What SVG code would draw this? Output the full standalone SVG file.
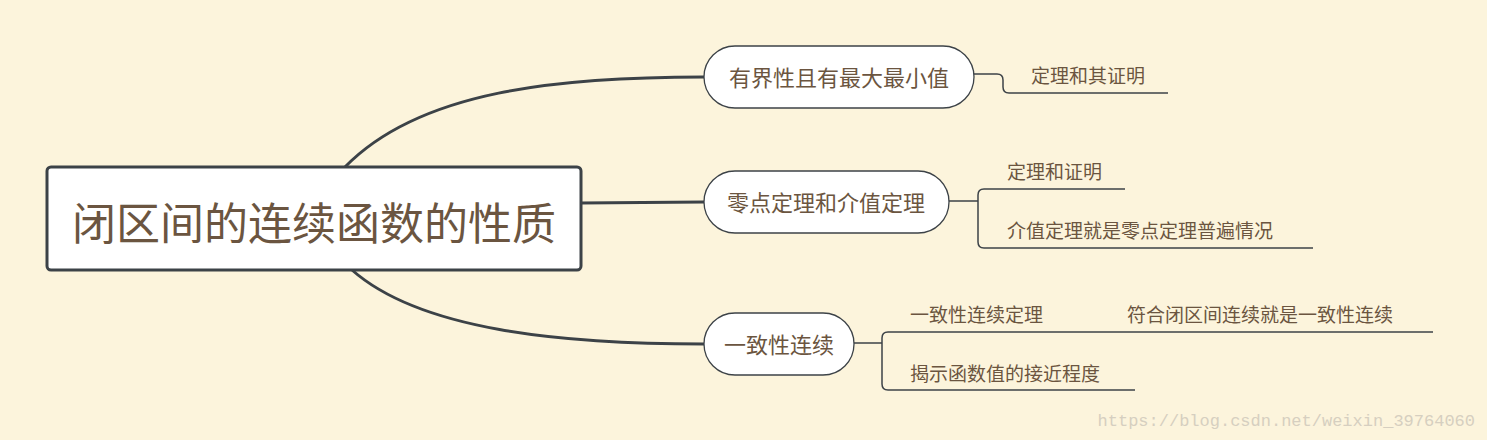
<svg xmlns="http://www.w3.org/2000/svg" width="1487" height="440" viewBox="0 0 1487 440">
<style>
.t{font-family:"Noto Sans CJK SC","Noto Sans",sans-serif;fill:#6b5540}
.n{fill:#fff;stroke:#3c4247;stroke-width:1.3}
.c{fill:none;stroke:#3c4247;stroke-width:3}
.l{fill:none;stroke:#3c4247;stroke-width:1.5}
</style>
<rect width="1487" height="440" fill="#fcf4dc"/>
<g id="connectors">
<path class="c" d="M345,167 C420,90 560,77 704,77"/>
<path class="c" d="M581,203 L704,202"/>
<path class="c" d="M352,270 C420,330 560,344 704,344"/>
<path class="l" d="M974,74 H997 Q1003,74 1003,80 V87 Q1003,93 1009,93 H1168"/>
<path class="l" d="M949,201 H978"/>
<path class="l" d="M1125,189 H984 Q978,189 978,195 V242 Q978,248 984,248 H1313"/>
<path class="l" d="M854,343 H882"/>
<path class="l" d="M1433,332 H888 Q882,332 882,338 V384 Q882,390 888,390 H1135"/>
</g>
<g id="root">
<rect x="47" y="167" width="534" height="103" rx="4" fill="#fff" stroke="#3c4247" stroke-width="3"/>
<text class="t" x="314" y="240" font-size="44" text-anchor="middle">闭区间的连续函数的性质</text>
</g>
<g id="n1">
<rect class="n" x="704" y="46" width="270" height="62" rx="31"/>
<text class="t" x="839" y="86" font-size="22" text-anchor="middle">有界性且有最大最小值</text>
</g>
<g id="n2">
<rect class="n" x="704" y="171" width="245" height="62" rx="31"/>
<text class="t" x="826" y="211" font-size="22" text-anchor="middle">零点定理和介值定理</text>
</g>
<g id="n3">
<rect class="n" x="704" y="313" width="150" height="62" rx="31"/>
<text class="t" x="779" y="353" font-size="22" text-anchor="middle">一致性连续</text>
</g>
<g id="leaves" font-size="19">
<text class="t" x="1031" y="83" font-size="19">定理和其证明</text>
<text class="t" x="1007" y="179" font-size="19">定理和证明</text>
<text class="t" x="1007" y="238" font-size="19">介值定理就是零点定理普遍情况</text>
<text class="t" x="910" y="322" font-size="19">一致性连续定理</text>
<text class="t" x="1127" y="322" font-size="19">符合闭区间连续就是一致性连续</text>
<text class="t" x="910" y="381" font-size="19">揭示函数值的接近程度</text>
</g>
<text x="1475" y="426" font-family="Liberation Mono,monospace" font-size="17" fill="#d6cfc0" text-anchor="end">https://blog.csdn.net/weixin_39764060</text>
</svg>
